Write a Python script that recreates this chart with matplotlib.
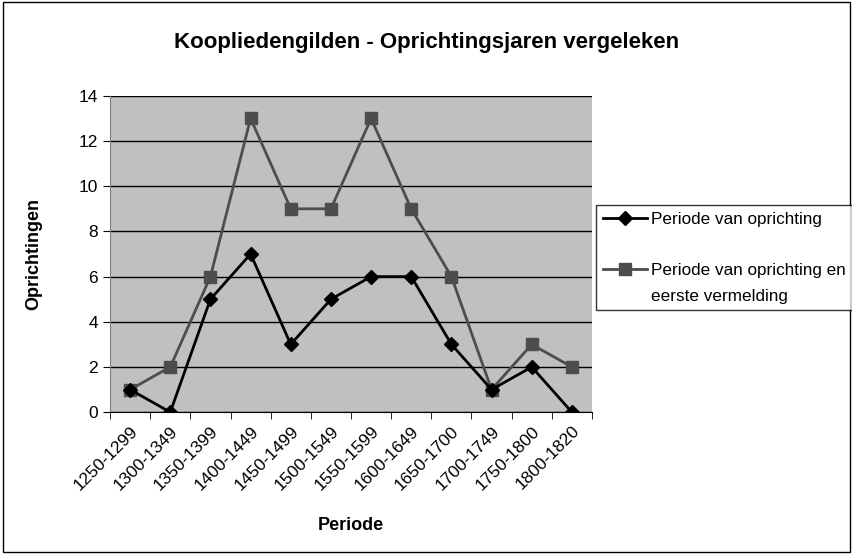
import numpy as np
import matplotlib.pyplot as plt
from matplotlib.lines import Line2D
from matplotlib.patches import Rectangle

# data
periodes = ['1250-1299', '1300-1349', '1350-1399', '1400-1449', '1450-1499',
            '1500-1549', '1550-1599', '1600-1649', '1650-1700', '1700-1749',
            '1750-1800', '1800-1820']
oprichting = [1, 0, 5, 7, 3, 5, 6, 6, 3, 1, 2, 0]
oprichting_vermelding = [1, 2, 6, 13, 9, 9, 13, 9, 6, 1, 3, 2]

plt.rcParams['font.family'] = ['Liberation Sans', 'DejaVu Sans']

fig = plt.figure(figsize=(8.53, 5.54), dpi=100)
ax = fig.add_axes([0.129, 0.256, 0.565, 0.571])
ax.set_facecolor('#C0C0C0')

x = np.arange(len(periodes))
l1, = ax.plot(x, oprichting, color='black', linewidth=2, marker='D', markersize=7, zorder=4)
l2, = ax.plot(x, oprichting_vermelding, color='#4D4D4D', linewidth=2, marker='s',
              markersize=8, zorder=3)

ax.set_xlim(-0.5, len(periodes) - 0.5)
ax.set_ylim(0, 14)
ax.set_yticks(range(0, 15, 2))
ax.yaxis.grid(True, color='black', linewidth=1)
ax.set_axisbelow(True)

ax.set_xticks(x)
ax.set_xticklabels(periodes, rotation=45, ha='right', rotation_mode='anchor', fontsize=12.5)
ax.set_xticks(np.arange(-0.5, len(periodes), 1), minor=True)
ax.tick_params(axis='x', which='major', length=0, pad=8)
ax.tick_params(axis='x', which='minor', length=5, direction='out')
ax.tick_params(axis='y', length=5, direction='out', labelsize=12.5)

for side in ['top', 'right']:
    ax.spines[side].set_visible(False)
ax.spines['left'].set_color('#808080')
ax.spines['bottom'].set_color('black')

ax.set_xlabel('Periode', fontsize=13, fontweight='bold', labelpad=17)
ax.set_ylabel('Oprichtingen', fontsize=13, fontweight='bold', labelpad=26)
fig.text(0.5, 0.924, 'Koopliedengilden - Oprichtingsjaren vergeleken',
         ha='center', va='center', fontsize=16, fontweight='bold')

# legend rows: blank rows mimic the spacing of the original
blank = Line2D([], [], linestyle='none')
leg = fig.legend([l1, blank, l2, blank],
                 ['Periode van oprichting', ' ', 'Periode van oprichting en', 'eerste vermelding'],
                 loc='upper left', bbox_to_anchor=(0.699, 0.630), fontsize=12.3,
                 frameon=True, fancybox=False, handlelength=2.6, handletextpad=0.2,
                 labelspacing=0.62, borderpad=0.4, borderaxespad=0)
leg.get_frame().set_edgecolor('black')
leg.get_frame().set_linewidth(1)

# outer border of the chart
fig.patches.append(Rectangle((0.003, 0.004), 0.994, 0.992, transform=fig.transFigure,
                             fill=False, edgecolor='black', linewidth=1))

fig.savefig('out.png', dpi=100)
